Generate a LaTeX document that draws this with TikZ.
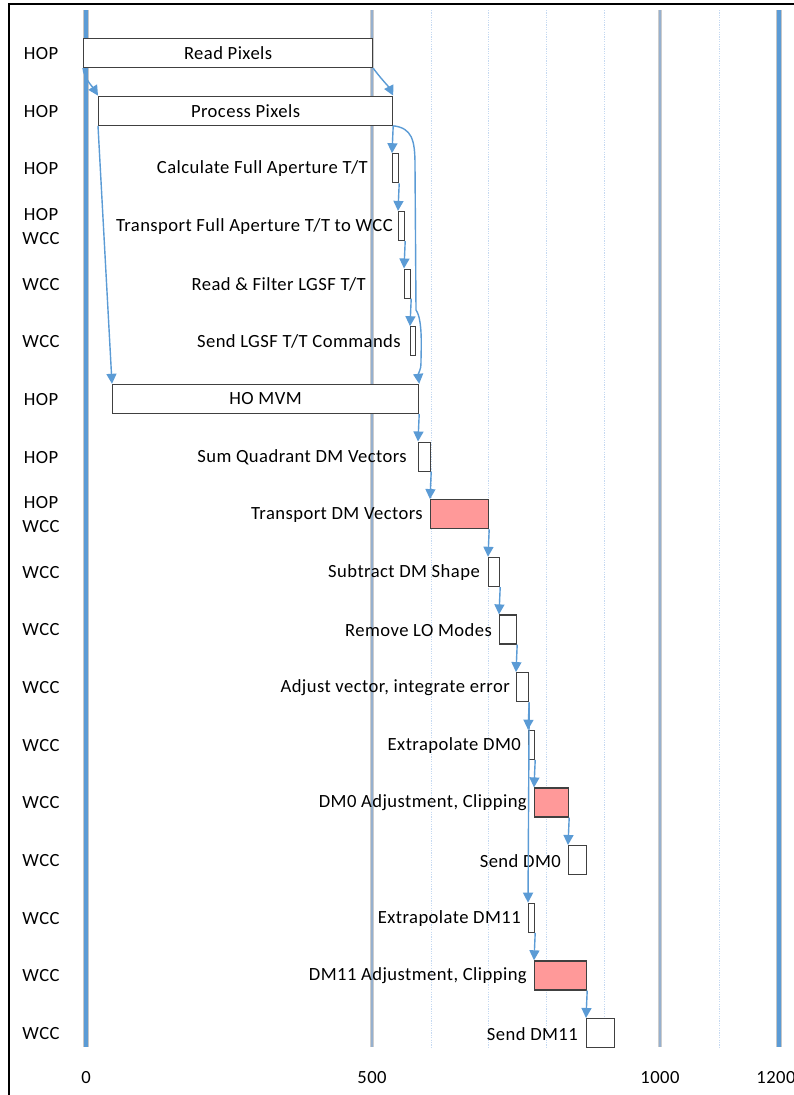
\documentclass[tikz,border=0pt]{standalone}
\usepackage{fontspec}
\setmainfont{Carlito}[LetterSpace=2.4]
\usetikzlibrary{arrows.meta}
\definecolor{linkblue}{RGB}{91,155,213}
\definecolor{midblue}{RGB}{150,176,206}
\definecolor{dotblue}{RGB}{197,217,241}
\definecolor{hotred}{RGB}{255,153,153}
\definecolor{edgegray}{RGB}{64,64,64}
\begin{document}
\begin{tikzpicture}[x=1pt,y=-1pt,
  every node/.style={font=\fontsize{18.6}{22}\selectfont},
  task/.style={draw=edgegray,line width=1.2pt,fill=white,minimum height=29pt,inner sep=0pt,anchor=west},
  hottask/.style={task,fill=hotred},
  tasklabel/.style={anchor=east,inner sep=0pt},
  lane/.style={align=center,inner sep=0pt,font=\fontsize{18.6}{23.5}\selectfont},
  link/.style={linkblue,line width=1.4pt,-{Triangle[length=10pt,width=10pt]}},
  gridminor/.style={dotblue,line width=1pt,dash pattern=on 1.2pt off 1.2pt},
  ticklabel/.style={inner sep=0pt}]
\useasboundingbox (0,0) rectangle (794,1095);

% frame
\draw[line width=2.2pt] (9,1095) -- (9,4) -- (794,4);

% grid
\foreach \gx in {431,488,546,604,719}
  \draw[gridminor] (\gx,10) -- (\gx,1047);
\foreach \gx in {372,660} {
  \draw[gray!40,line width=3.6pt] (\gx,10) -- (\gx,1047);
  \draw[midblue,line width=2.2pt] (\gx,10) -- (\gx,1047);
}
\foreach \gx in {86,779} {
  \draw[gray!45,line width=6.4pt] (\gx,10) -- (\gx,1047);
  \draw[linkblue,line width=4.6pt] (\gx,10) -- (\gx,1047);
}

% axis
\node[ticklabel] (t0) at (86,1078) {0};
\node[ticklabel] (t500) at (372,1078) {500};
\node[ticklabel] (t1000) at (660,1078) {1000};
\node[ticklabel] (t1200) at (776,1078) {1200};

% lanes
\foreach \who [count=\i] in {HOP,HOP,HOP,{HOP\\WCC},WCC,WCC,HOP,HOP,{HOP\\WCC},WCC,WCC,WCC,WCC,WCC,WCC,WCC,WCC,WCC}
  \node[lane] (lane\i) at (41,{53.5+(\i-1)*57.65}) {\who};

% tasks
\node[task,minimum width=289pt] (rp) at (83,53) {Read Pixels};
\node[task,minimum width=294pt] (pp) at (98,110.7) {Process Pixels};
\node[task,minimum width=6pt] (cfa) at (392,168.3) {};
\node[tasklabel] (cfa-l) at (368,168.8) {Calculate Full Aperture T/T};
\node[task,minimum width=6pt] (tfa) at (398,226) {};
\node[tasklabel] (tfa-l) at (393,226.5) {Transport Full Aperture T/T to WCC};
\node[task,minimum width=6pt] (rfl) at (404,283.6) {};
\node[tasklabel] (rfl-l) at (366,284.1) {Read \& Filter LGSF T/T};
\node[task,minimum width=5pt] (sll) at (410,341.3) {};
\node[tasklabel] (sll-l) at (401,341.8) {Send LGSF T/T Commands};
\node[task,minimum width=306pt] (mvm) at (112,398.9) {HO MVM};
\node[task,minimum width=12pt] (sqd) at (418,456.6) {};
\node[tasklabel] (sqd-l) at (407,457.1) {Sum Quadrant DM Vectors};
\node[hottask,minimum width=58pt] (tdm) at (430,514.2) {};
\node[tasklabel] (tdm-l) at (423,514.7) {Transport DM Vectors};
\node[task,minimum width=11pt] (sds) at (488,571.9) {};
\node[tasklabel] (sds-l) at (480,572.4) {Subtract DM Shape};
\node[task,minimum width=17pt] (rlo) at (499,629.5) {};
\node[tasklabel] (rlo-l) at (492,630) {Remove LO Modes};
\node[task,minimum width=12pt] (avi) at (516,687.2) {};
\node[tasklabel] (avi-l) at (510,687.7) {Adjust vector, integrate error};
\node[task,minimum width=6pt] (ed0) at (528,744.8) {};
\node[tasklabel] (ed0-l) at (521,745.3) {Extrapolate DM0};
\node[hottask,minimum width=34pt] (ad0) at (534,802.5) {};
\node[tasklabel] (ad0-l) at (527,803) {DM0 Adjustment, Clipping};
\node[task,minimum width=18pt] (sd0) at (568,860.1) {};
\node[tasklabel] (sd0-l) at (561,860.6) {Send DM0};
\node[task,minimum width=6pt] (ed11) at (528,917.8) {};
\node[tasklabel] (ed11-l) at (521,918.3) {Extrapolate DM11};
\node[hottask,minimum width=52pt] (ad11) at (534,975.4) {};
\node[tasklabel] (ad11-l) at (527,975.9) {DM11 Adjustment, Clipping};
\node[task,minimum width=28pt] (sd11) at (586,1033.1) {};
\node[tasklabel] (sd11-l) at (578,1033.6) {Send DM11};

% links
\draw[link] (rp.south west) .. controls +(1,10) and +(-5,-8) .. (pp.north west);
\draw[link] (rp.south east) .. controls +(4,6) and +(-4,-8) .. (pp.north east);
\draw[link] (pp.south west) -- (mvm.north west);
\draw[link] (pp.south east) -- (cfa.north west);
\draw[link] (pp.south east) .. controls (412,128) and (415,140) .. (415,165)
  -- (416,310) .. controls (423,320) and (421,350) .. (421,362)
  .. controls (421,372) and (418,372) .. (mvm.north east);
\draw[link] (cfa.south east) -- (tfa.north west);
\draw[link] (tfa.south east) -- (rfl.north west);
\draw[link] (rfl.south east) -- (sll.north west);
\draw[link] (mvm.south east) -- (sqd.north west);
\draw[link] (sqd.south east) -- (tdm.north west);
\draw[link] (tdm.south east) -- (sds.north west);
\draw[link] (sds.south east) -- (rlo.north west);
\draw[link] (rlo.south east) -- (avi.north west);
\draw[link] (avi.south east) -- (ed0.north west);
\draw[link] (avi.south east) -- (ed11.north west);
\draw[link] (ed0.south east) -- (ad0.north west);
\draw[link] (ad0.south east) -- (sd0.north west);
\draw[link] (ed11.south east) -- (ad11.north west);
\draw[link] (ad11.south east) -- (sd11.north west);
\end{tikzpicture}
\end{document}
